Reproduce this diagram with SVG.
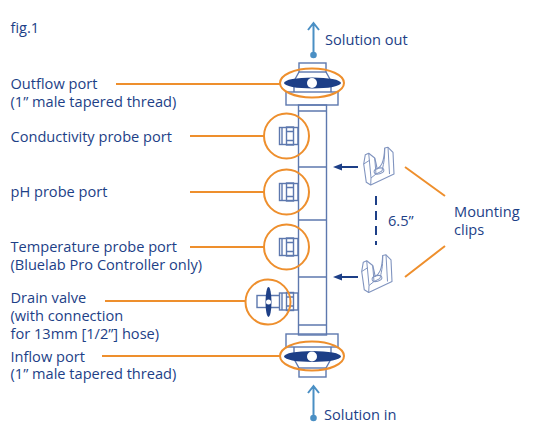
<svg xmlns="http://www.w3.org/2000/svg" width="533" height="445" viewBox="0 0 533 445">
<style>
text{font-family:"Open Sans","Noto Sans",sans-serif;font-size:14.6px;fill:#1d3f87}
.b{fill:none;stroke:#5d78ae;stroke-width:1.4}
.o{fill:none;stroke:#ee8f2d;stroke-width:2}
.d{fill:#1d3f87}
.a{fill:none;stroke:#4a8fc4;stroke-width:2}
.n{fill:none;stroke:#1d3f87;stroke-width:1.8}
.c{fill:#fff;stroke:#8094bf;stroke-width:1.1;stroke-linejoin:round}
.t{fill:none;stroke:#8094bf;stroke-width:1}
</style>
<defs>
<g id="probe"><rect class="b" x="-21.500" y="-8.500" width="18.500" height="17"/><rect class="b" x="-14.500" y="-9" width="7" height="18"/><path class="b" d="M-14.500-4.500h7M-14.500 4.500h7M-19-8.500v17"/></g>
<g id="clip">
<path class="c" d="M-12.700-11.300L-9.300-12.700-3.300-8C-2-3 -1 1 -1 3C3 1 6-3 6.700-18L10-18.700 15-13.700 16 8-7.300 19-11.700 16.300-14.300-2z"/>
<path class="t" d="M-9.300-12.700L-7 12-7.300 19M-3.300-8L-2 8-7 12M6.700-18C7-6 5 0 4 5L-2 8M10-18.700L11.500 8M-14.300-2L-8-6"/>
<ellipse class="t" cx="1" cy="5" rx="5" ry="2.800" transform="rotate(-15 1 5)"/>
</g>
</defs>
<g id="connectors">
<path class="a" d="M313.500 55V24M308 30l5.500-7 5.500 7"/><circle cx="313.500" cy="55" r="3.300" fill="#4a8fc4"/>
<path class="a" d="M313.500 418V387M308 393l5.500-7 5.500 7"/><circle cx="313.500" cy="418" r="3.300" fill="#4a8fc4"/>
<path class="o" d="M116 84H280M190 136H264M190 192H264M190 247H264M105 301H245M102 356H280M405 167L445 196M405 277L445 246"/>
<path class="n" d="M358 167H337M358 277H337"/>
<path class="d" d="M333 167l9-3.500v7zM333 277l9-3.500v7z"/>
<path d="M376 196V245" fill="none" stroke="#1d3f87" stroke-width="2" stroke-dasharray="9 6"/>
</g>
<g id="pipe">
<rect class="b" x="298.500" y="105" width="28" height="230"/>
<path class="b" d="M298.500 111H326.500M298.500 167H326.500M298.500 220H326.500M298.500 277H326.500M298.500 325H326.500"/>
</g>
<g id="outflow-port">
<rect class="b" x="299" y="63" width="27" height="9"/>
<path class="b" d="M299 72l-5 9M326 72l5 9"/>
<rect class="b" x="286" y="92" width="52" height="13"/>
<path class="b" d="M294 86v6M331 86v6"/>
<ellipse class="d" cx="312.500" cy="83" rx="28.500" ry="5.500"/>
<circle cx="312" cy="83" r="5" fill="#fff"/>
<ellipse class="o" cx="312" cy="83" rx="32" ry="14.500"/>
</g>
<g id="inflow-port">
<rect class="b" x="286" y="334" width="52" height="13"/>
<rect class="b" x="299" y="368" width="27" height="9"/>
<path class="b" d="M294 347v6M331 347v6M294 359l5 9M331 359l-5 9"/>
<ellipse class="d" cx="312.500" cy="356.500" rx="28.500" ry="5.500"/>
<circle cx="312" cy="356.500" r="5" fill="#fff"/>
<ellipse class="o" cx="312" cy="356" rx="32" ry="14.500"/>
</g>
<g id="conductivity-port"><use href="#probe" x="301" y="136"/><circle class="o" cx="286.500" cy="136" r="22.500"/></g>
<g id="ph-port"><use href="#probe" x="301" y="192"/><circle class="o" cx="286.500" cy="192" r="22.500"/></g>
<g id="temperature-port"><use href="#probe" x="301" y="247"/><circle class="o" cx="286.500" cy="247" r="22.500"/></g>
<g id="drain-valve">
<use href="#probe" x="301" y="301.500"/>
<rect class="b" x="257" y="295.500" width="12" height="12"/>
<path class="b" d="M269 295.500H280M269 307.500H280"/>
<ellipse class="d" cx="268.500" cy="302" rx="3" ry="15"/>
<circle cx="268.500" cy="302" r="2.500" fill="#fff"/>
<circle class="o" cx="268" cy="302" r="22.500"/>
</g>
<g id="clips">
<use href="#clip" x="378" y="166"/>
<use href="#clip" x="376" y="273.500"/>
</g>
<g id="labels">
<text x="10.500" y="33">fig.1</text>
<text x="325" y="45">Solution out</text>
<text x="10.500" y="89">Outflow port<tspan x="10.500" y="107">(1” male tapered thread)</tspan></text>
<text x="10.500" y="142">Conductivity probe port</text>
<text x="10.500" y="197">pH probe port</text>
<text x="10.500" y="252">Temperature probe port<tspan x="10.500" y="270">(Bluelab Pro Controller only)</tspan></text>
<text x="10.500" y="302.500">Drain valve<tspan x="10.500" y="320.500">(with connection</tspan><tspan x="10.500" y="338.500">for 13mm [1/2”] hose)</tspan></text>
<text x="10.500" y="361.500">Inflow port<tspan x="10.500" y="379">(1” male tapered thread)</tspan></text>
<text x="324" y="420">Solution in</text>
<text x="388" y="226">6.5”</text>
<text x="454" y="217">Mounting<tspan x="454" y="235">clips</tspan></text>
</g>
</svg>
